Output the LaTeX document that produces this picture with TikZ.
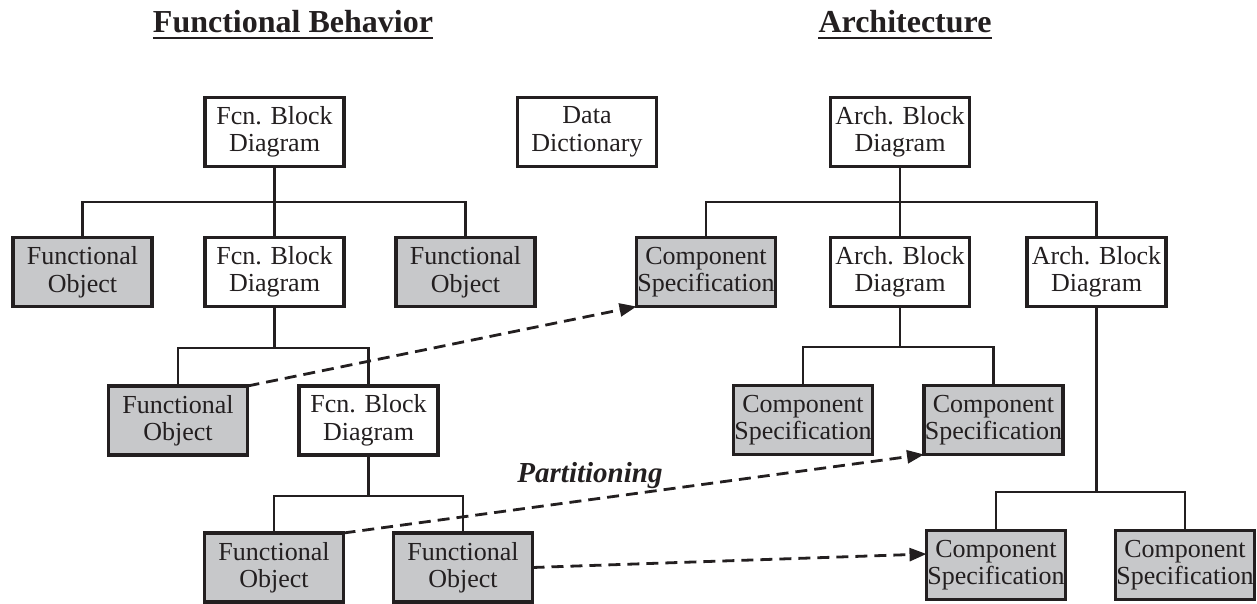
\documentclass[tikz,border=0pt]{standalone}
\usepackage{fontspec}
\setmainfont{Liberation Serif}
\usetikzlibrary{arrows.meta}
\definecolor{ink}{RGB}{35,31,32}
\definecolor{boxgray}{RGB}{199,200,202}
\begin{document}
\begin{tikzpicture}[x=1pt,y=-1pt,
  box/.style={draw=ink, line width=3.3pt, minimum width=139pt, minimum height=69pt, inner sep=0pt, outer sep=0pt, align=center, font=\fontsize{26}{27.5}\selectfont, text=ink},
  fobj/.style={box, fill=boxgray},
  wbox/.style={box, fill=white},
  tree/.style={draw=ink, line width=2.8pt},
  part/.style={draw=ink, line width=2.8pt, dash pattern=on 12pt off 7pt, -{Triangle[length=17pt,width=13pt]}},
  title/.style={font=\fontsize{32}{32}\selectfont\bfseries, text=ink, inner sep=0pt, anchor=base},
  ulined/.style={draw=ink, line width=2.2pt}]
\useasboundingbox (0,0) rectangle (1257,604);

% titles
\node[title] (t1) at (293,33) {Functional Behavior};
\node[title] (t2) at (905,33) {Architecture};
\draw[ulined] ([yshift=-5pt]t1.base west) -- ([yshift=-5pt]t1.base east);
\draw[ulined] ([yshift=-5pt]t2.base west) -- ([yshift=-5pt]t2.base east);

% row 1
\node[wbox] (fcnTop) at (274.5,132) {Fcn. Block\\Diagram};
\node[wbox] (dd) at (587,132) {Data\\Dictionary};
\node[wbox] (archTop) at (900,132) {Arch. Block\\Diagram};

% row 2
\node[fobj] (fo1) at (82.5,272) {Functional\\Object};
\node[wbox] (fcnMid) at (274.5,272) {Fcn. Block\\Diagram};
\node[fobj] (fo2) at (465.5,272) {Functional\\Object};
\node[fobj] (cs1) at (706,272) {Component\\Specification};
\node[wbox] (archMid) at (900,272) {Arch. Block\\Diagram};
\node[wbox] (archRight) at (1096.5,272) {Arch. Block\\Diagram};

% row 3
\node[fobj] (fo3) at (178,420.5) {Functional\\Object};
\node[wbox] (fcn3) at (368.5,420.5) {Fcn. Block\\Diagram};
\node[fobj] (cs2) at (803,420) {Component\\Specification};
\node[fobj] (cs3) at (993.5,420) {Component\\Specification};

% row 4
\node[fobj] (fo4) at (274,567.5) {Functional\\Object};
\node[fobj] (fo5) at (463,567.5) {Functional\\Object};
\node[fobj] (cs4) at (996,565) {Component\\Specification};
\node[fobj] (cs5) at (1185,565) {Component\\Specification};

% bar levels
\coordinate (b1) at (0,202);
\coordinate (b3) at (0,348);
\coordinate (b4) at (0,347);
\coordinate (b5) at (0,496);
\coordinate (b6) at (0,492);

% functional tree
\draw[tree] (fcnTop.south) -- (fcnMid.north);
\draw[tree] (fo1.north) -- (fo1.north |- b1) -- (fo2.north |- b1) -- (fo2.north);
\draw[tree] (fcnMid.south) -- (fcnMid.south |- b3);
\draw[tree] (fo3.north) -- (fo3.north |- b3) -- (fcn3.north |- b3) -- (fcn3.north);
\draw[tree] (fcn3.south) -- (fcn3.south |- b5);
\draw[tree] (fo4.north) -- (fo4.north |- b5) -- (fo5.north |- b5) -- (fo5.north);

% architecture tree
\draw[tree] (archTop.south) -- (archMid.north);
\draw[tree] (cs1.north) -- (cs1.north |- b1) -- (archRight.north |- b1) -- (archRight.north);
\draw[tree] (archMid.south) -- (archMid.south |- b4);
\draw[tree] (cs2.north) -- (cs2.north |- b4) -- (cs3.north |- b4) -- (cs3.north);
\draw[tree] (archRight.south) -- (archRight.south |- b6);
\draw[tree] (cs4.north) -- (cs4.north |- b6) -- (cs5.north |- b6) -- (cs5.north);

% partitioning arrows
\draw[part] (fo3.north east) -- (cs1.south west);
\draw[part] (fo4.north east) -- (cs3.south west);
\draw[part] (fo5.east) -- ([yshift=11pt]cs4.west);
\node[font=\fontsize{29}{29}\selectfont\bfseries\itshape, text=ink, inner sep=0pt, anchor=base] (lbl) at (590,482) {Partitioning};
\end{tikzpicture}
\end{document}
